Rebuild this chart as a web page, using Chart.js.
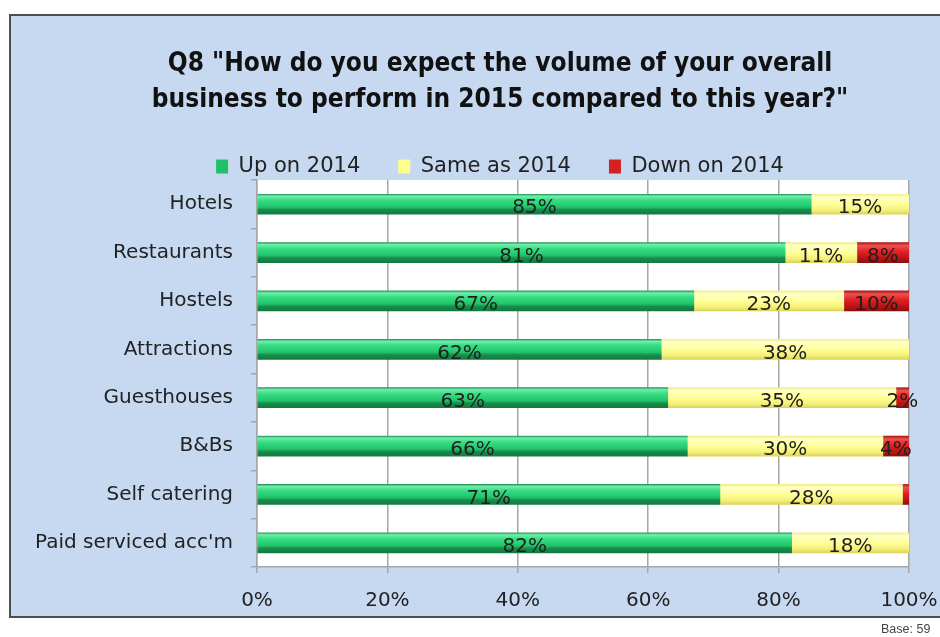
<!DOCTYPE html>
<html>
<head>
<meta charset="utf-8">
<script src="https://cdn.jsdelivr.net/npm/chart.js@4"></script>
<style>
  html, body { margin: 0; padding: 0; background: #fff; overflow: hidden; }
  #wrap { position: relative; width: 940px; height: 637px; overflow: hidden; }
  #box {
    position: absolute; left: 9px; top: 14px; width: 980px; height: 604px;
    background: #c6d9f1; border: 2px solid #4d4d4d; box-sizing: border-box;
  }
  #chart { position: absolute; left: 0; top: 0; }
  #base {
    position: absolute; left: 881px; top: 622px;
    font: 12.5px "Liberation Sans", Arial, sans-serif; color: #444; white-space: nowrap;
  }
</style>
</head>
<body>
<div id="wrap">
  <div id="box"></div>
  <canvas id="chart" width="980" height="637"></canvas>
  <div id="base">Base: 59</div>
</div>
<script>
// Survey answers per sector (percent of respondents)
const categories = ["Hotels", "Restaurants", "Hostels", "Attractions", "Guesthouses", "B&Bs", "Self catering", "Paid serviced acc'm"];
const upValues = [85, 81, 67, 62, 63, 66, 71, 82];
const sameValues = [15, 11, 23, 38, 35, 30, 28, 18];
const downValues = [0, 8, 10, 0, 2, 4, 1, 0];
const seriesNames = ["Up on 2014", "Same as 2014", "Down on 2014"];
const xTicks = [0, 20, 40, 60, 80, 100];

const bodyFont = "'DejaVu Sans', sans-serif";
const titleFont = "'DejaVu Sans Condensed', 'DejaVu Sans', sans-serif";

// shaded "cylinder" look for each series: [stop, colour]
const shades = [
  [[0, "#2a9a5a"], [0.1, "#6ff0ac"], [0.3, "#38dc84"], [0.65, "#20c468"], [0.78, "#178c4c"], [1, "#147a42"]],
  [[0, "#f2ee8a"], [0.15, "#ffffc8"], [0.5, "#ffff99"], [0.8, "#f5f07a"], [1, "#dcd35c"]],
  [[0, "#a81818"], [0.15, "#f05050"], [0.45, "#e02222"], [0.78, "#b81414"], [1, "#8c1010"]]
];
const solids = ["#21c068", "#ffff8c", "#d42020"];
const barHeight = 20;

function barFill(series) {
  return (c) => {
    const y = c.chart.scales.y;
    if (!y || y.top === undefined || c.type !== "data") return solids[series];
    const yc = y.getPixelForValue(c.dataIndex);
    const g = c.chart.ctx.createLinearGradient(0, yc - barHeight / 2, 0, yc + barHeight / 2);
    shades[series].forEach(s => g.addColorStop(s[0], s[1]));
    return g;
  };
}

// white plot background
const plotBg = {
  id: "plotBg",
  beforeDraw(chart) {
    const a = chart.chartArea;
    const ctx = chart.ctx;
    ctx.save();
    ctx.fillStyle = "#ffffff";
    ctx.fillRect(a.left, a.top, a.right - a.left, a.bottom - a.top);
    ctx.restore();
  }
};

// wide gaps between legend items without a tall legend block,
// and let long category names run left past the axis box
const layoutTweaks = {
  id: "layoutTweaks",
  beforeLayout(chart) {
    const lg = chart.legend;
    if (lg && !lg._trimmed) {
      const fit = lg.fit;
      lg.fit = function () { fit.call(this); this.height -= 7; };
      lg._trimmed = true;
    }
  },
  afterLayout(chart) { chart.scales.y.left = 0; }
};

// percentage labels centred in each segment
const segLabels = {
  id: "segLabels",
  afterDatasetsDraw(chart) {
    const ctx = chart.ctx;
    ctx.save();
    ctx.font = "20px " + bodyFont;
    ctx.fillStyle = "#1f1f1f";
    ctx.textAlign = "center";
    ctx.textBaseline = "middle";
    chart.data.datasets.forEach((ds, i) => {
      chart.getDatasetMeta(i).data.forEach((bar, j) => {
        const v = ds.data[j];
        if (v < 2) return;
        ctx.fillText(v + "%", (bar.x + bar.base) / 2, bar.y + 4);
      });
    });
    ctx.restore();
  }
};

new Chart(document.getElementById("chart"), {
  type: "bar",
  data: {
    labels: categories,
    datasets: [upValues, sameValues, downValues].map((vals, i) => ({
      label: seriesNames[i],
      data: vals,
      backgroundColor: barFill(i),
      borderWidth: 0,
      barThickness: barHeight
    }))
  },
  options: {
    indexAxis: "y",
    responsive: false,
    animation: false,
    layout: { padding: { left: 91, right: 71, top: 0, bottom: 28 } },
    plugins: {
      title: {
        display: true,
        text: ["Q8 \"How do you expect the volume of your overall", "business to perform in 2015 compared to this year?\""],
        color: "#111",
        font: { family: titleFont, size: 26, weight: "bold", lineHeight: 1.385 },
        padding: { top: 46, bottom: 0 }
      },
      legend: {
        labels: {
          boxWidth: 12, boxHeight: 14,
          color: "#222",
          font: { family: bodyFont, size: 21 },
          padding: 38,
          generateLabels(chart) {
            const items = Chart.defaults.plugins.legend.labels.generateLabels(chart);
            items.forEach((it, i) => { it.fillStyle = solids[i]; it.strokeStyle = solids[i]; it.lineWidth = 0; });
            return items;
          }
        }
      },
      tooltip: { enabled: false }
    },
    scales: {
      x: {
        stacked: true,
        min: 0, max: 100,
        afterBuildTicks(scale) { scale.ticks = xTicks.map(v => ({ value: v })); },
        afterFit(scale) { scale.height = 42; },
        ticks: {
          callback: v => v + "%",
          color: "#222",
          font: { family: bodyFont, size: 20 },
          padding: 16
        },
        grid: { color: "#a6a6a6", lineWidth: 1.5, tickLength: 6 },
        border: { color: "#a6a6a6", width: 1.5 }
      },
      y: {
        stacked: true,
        afterFit(scale) { scale.width = 166; },
        ticks: {
          color: "#222",
          font: { family: bodyFont, size: 20 },
          padding: 18
        },
        grid: { offset: true, drawOnChartArea: false, color: "#a6a6a6", lineWidth: 1.5, tickLength: 6 },
        border: { color: "#a6a6a6", width: 1.5 }
      }
    }
  },
  plugins: [plotBg, layoutTweaks, segLabels]
});
</script>
</body>
</html>
